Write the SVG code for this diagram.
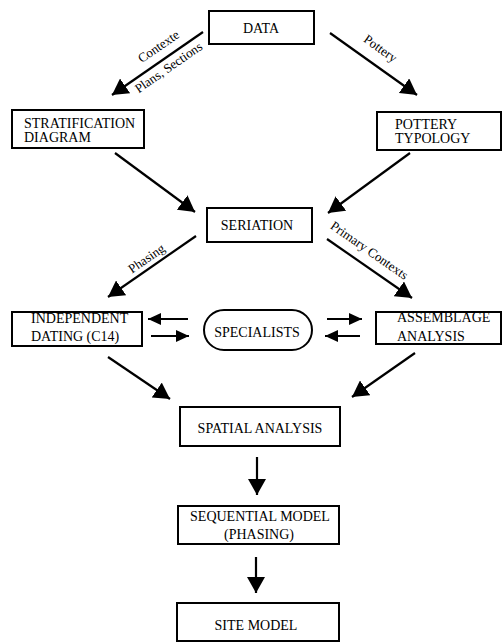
<svg xmlns="http://www.w3.org/2000/svg" width="503" height="643" viewBox="0 0 503 643">
<defs>
<marker id="big" markerUnits="userSpaceOnUse" markerWidth="16" markerHeight="18" refX="16" refY="9" orient="auto"><path d="M0,0 L16,9 L0,18 z" fill="#000"/></marker>
<marker id="small" markerUnits="userSpaceOnUse" markerWidth="13" markerHeight="12" refX="13" refY="6" orient="auto"><path d="M0,0 L13,6 L0,12 z" fill="#000"/></marker>
</defs>
<style>
.box{fill:#fff;stroke:#000;stroke-width:2}
.t{font-family:"Liberation Serif","Times New Roman",serif;font-size:14px;fill:#000}
.c{text-anchor:middle}
.lbl{font-family:"Liberation Serif","Times New Roman",serif;font-size:13px;fill:#000;text-anchor:middle}
.ln{stroke:#000;stroke-width:2.2;fill:none;marker-end:url(#big)}
.sl{stroke:#000;stroke-width:2.2;fill:none;marker-end:url(#small)}
</style>
<rect width="503" height="643" fill="#fff"/>
<g id="connectors">
<line class="ln" x1="203" y1="32" x2="112" y2="95"/>
<line class="ln" x1="330" y1="33" x2="417" y2="95"/>
<line class="ln" x1="115" y1="153" x2="195" y2="212"/>
<line class="ln" x1="410" y1="153" x2="328" y2="213"/>
<line class="ln" x1="196" y1="236" x2="108" y2="297"/>
<line class="ln" x1="327" y1="239" x2="412" y2="298"/>
<line class="sl" x1="188" y1="319" x2="148" y2="319"/>
<line class="sl" x1="151" y1="336" x2="189" y2="336"/>
<line class="sl" x1="327" y1="319" x2="362" y2="319"/>
<line class="sl" x1="360" y1="336" x2="325" y2="336"/>
<line class="ln" x1="108" y1="357" x2="170" y2="399"/>
<line class="ln" x1="415" y1="353" x2="352" y2="397"/>
<line class="ln" x1="257" y1="457" x2="257" y2="495"/>
<line class="ln" x1="256" y1="557" x2="256" y2="593"/>
<text class="lbl" transform="translate(161,50) rotate(-34.7)">Contexte</text>
<text class="lbl" transform="translate(171,71) rotate(-34.7)">Plans, Sections</text>
<text class="lbl" transform="translate(378,52) rotate(35.5)">Pottery</text>
<text class="lbl" transform="translate(149,262) rotate(-34.7)">Phasing</text>
<text class="lbl" transform="translate(367,254) rotate(35)">Primary Contexts</text>
</g>
<g id="data"><rect class="box" x="209" y="11" width="105" height="33"/><text class="t c" x="261" y="33">DATA</text></g>
<g id="stratification"><rect class="box" x="12" y="110" width="132" height="38"/><text class="t" x="24" y="128">STRATIFICATION</text><text class="t" x="24" y="142">DIAGRAM</text></g>
<g id="pottery"><rect class="box" x="377" y="112" width="124" height="38"/><text class="t" x="395" y="129">POTTERY</text><text class="t" x="395" y="143">TYPOLOGY</text></g>
<g id="seriation"><rect class="box" x="207" y="208" width="105" height="34"/><text class="t c" x="257" y="230">SERIATION</text></g>
<g id="independent"><rect class="box" x="12" y="312" width="130" height="34"/><text class="t" x="31" y="323">INDEPENDENT</text><text class="t" x="31" y="341">DATING (C14)</text></g>
<g id="specialists"><rect class="box" x="204" y="310" width="108" height="40" rx="20" ry="20"/><text class="t c" x="257" y="337">SPECIALISTS</text></g>
<g id="assemblage"><rect class="box" x="376" y="312" width="125" height="32"/><text class="t" x="397" y="322">ASSEMBLAGE</text><text class="t" x="397" y="341">ANALYSIS</text></g>
<g id="spatial"><rect class="box" x="180" y="407" width="160" height="39"/><text class="t c" x="260" y="433">SPATIAL ANALYSIS</text></g>
<g id="sequential"><rect class="box" x="178" y="506" width="161" height="38"/><text class="t c" x="260" y="521">SEQUENTIAL MODEL</text><text class="t c" x="259" y="539">(PHASING)</text></g>
<g id="site"><rect class="box" x="177" y="603" width="162" height="38"/><text class="t c" x="256" y="630">SITE MODEL</text></g>
</svg>
